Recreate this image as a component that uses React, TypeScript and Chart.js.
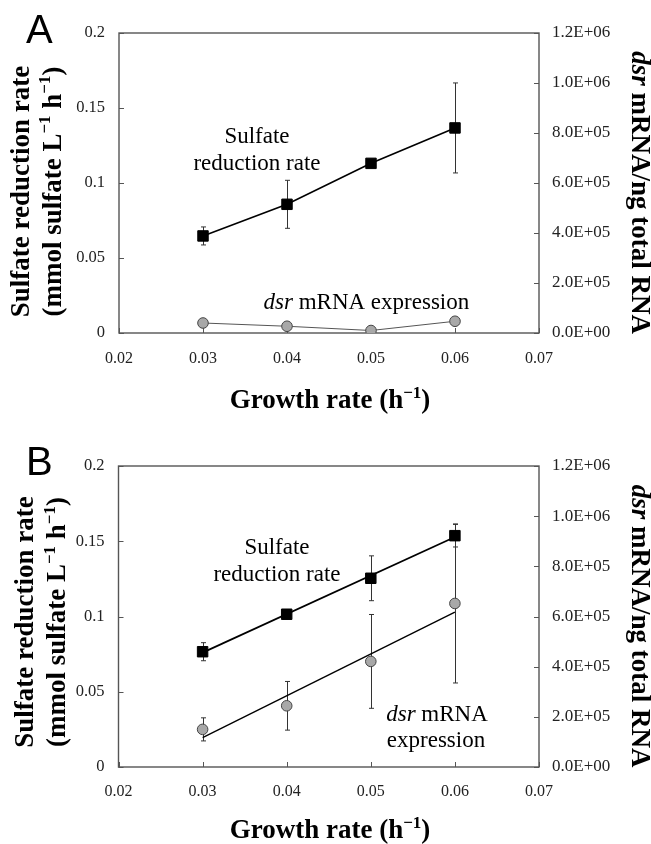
import React, { useEffect, useRef } from 'react';
import { Chart, registerables } from 'chart.js';

Chart.register(...registerables);

// ---------- data ----------
const growthRates = [0.03, 0.04, 0.05, 0.06];
const trendX = [0.03, 0.06];
const xTickValues = [0.02, 0.03, 0.04, 0.05, 0.06, 0.07];
const leftTickValues = [0, 0.05, 0.1, 0.15, 0.2];
const rightTickValues = [0, 200000, 400000, 600000, 800000, 1000000, 1200000];

// Panel A
const sulfateA = [0.0647, 0.0858, 0.1131, 0.1367];
const sulfateErrA = [0.006, 0.016, 0, 0.03];
const dsrA = [40000, 27000, 10000, 47000];

// Panel B
const sulfateB = [0.0766, 0.1015, 0.1254, 0.1537];
const sulfateErrB = [0.006, 0, 0.0149, 0.0075];
const dsrB = [150000, 244000, 421000, 652000];
const dsrErrB = [46000, 97000, 187000, 317000];
const sulfateTrendB = [0.076, 0.1528];
const dsrTrendB = [117000, 617000];

// ---------- style ----------
const SERIF = '"Liberation Serif", "Times New Roman", serif';
const SANS = '"Liberation Sans", Arial, sans-serif';
const W = 651;
const H = 422;

type Seg = { t: string; italic?: boolean; sup?: boolean };

function drawRich(
  ctx: CanvasRenderingContext2D,
  segs: Seg[],
  x: number,
  y: number,
  rot: number,
  size: number,
  bold: boolean,
  align: 'center' | 'left' = 'center'
) {
  ctx.save();
  ctx.translate(x, y);
  ctx.rotate(rot);
  ctx.textBaseline = 'alphabetic';
  ctx.textAlign = 'left';
  ctx.fillStyle = '#000';
  const fontFor = (s: Seg) =>
    `${s.italic ? 'italic ' : ''}${bold ? 'bold ' : ''}${s.sup ? Math.round(size * 0.62) : size}px ${SERIF}`;
  let total = 0;
  const widths = segs.map((s) => {
    ctx.font = fontFor(s);
    const w = ctx.measureText(s.t).width;
    total += w;
    return w;
  });
  let cx = align === 'center' ? -total / 2 : 0;
  segs.forEach((s, i) => {
    ctx.font = fontFor(s);
    ctx.fillText(s.t, cx, s.sup ? -size * 0.38 : 0);
    cx += widths[i];
  });
  ctx.restore();
}

const fmtE = (v: number) => {
  const [m, e] = Number(v).toExponential(1).split('e');
  const n = parseInt(e, 10);
  return `${m}E${n < 0 ? '-' : '+'}${String(Math.abs(n)).padStart(2, '0')}`;
};

type ErrSpec = { vals: number[]; errs: number[]; axis: string };
type TextSpec = { segs: Seg[]; x: number; y: number; rot: number; size: number; bold: boolean; align?: 'center' | 'left' };

type PanelSpec = {
  top: number;
  bottomH: number;
  leftW: number;
  rightW: number;
  xPad: number;
  datasets: any[];
  errors: ErrSpec[];
  texts: TextSpec[];
  letter: { t: string; x: number; y: number; size: number };
};

function makeDecor(p: PanelSpec) {
  return {
    id: 'decor',
    beforeDatasetsDraw(chart: any) {
      const { ctx, chartArea: a, scales } = chart;
      ctx.save();
      // frame
      ctx.strokeStyle = '#555';
      ctx.lineWidth = 1.4;
      ctx.strokeRect(a.left, a.top, a.right - a.left, a.bottom - a.top);
      // inward tick marks
      ctx.beginPath();
      ctx.lineWidth = 1;
      scales.x.ticks.forEach((t: any) => {
        const px = Math.round(scales.x.getPixelForValue(t.value)) + 0.5;
        ctx.moveTo(px, a.bottom);
        ctx.lineTo(px, a.bottom - 5);
      });
      scales.y.ticks.forEach((t: any) => {
        const py = Math.round(scales.y.getPixelForValue(t.value)) + 0.5;
        ctx.moveTo(a.left, py);
        ctx.lineTo(a.left + 5, py);
      });
      scales.y1.ticks.forEach((t: any) => {
        const py = Math.round(scales.y1.getPixelForValue(t.value)) + 0.5;
        ctx.moveTo(a.right, py);
        ctx.lineTo(a.right - 5, py);
      });
      ctx.stroke();
      // error bars
      ctx.strokeStyle = '#333';
      ctx.lineWidth = 1;
      p.errors.forEach((es) => {
        const ys = scales[es.axis];
        es.vals.forEach((v, i) => {
          const e = es.errs[i];
          if (!e) return;
          const px = Math.round(scales.x.getPixelForValue(growthRates[i])) + 0.5;
          const t = ys.getPixelForValue(v + e);
          const b = ys.getPixelForValue(v - e);
          ctx.beginPath();
          ctx.moveTo(px, t);
          ctx.lineTo(px, b);
          ctx.moveTo(px - 2.5, t);
          ctx.lineTo(px + 2.5, t);
          ctx.moveTo(px - 2.5, b);
          ctx.lineTo(px + 2.5, b);
          ctx.stroke();
        });
      });
      ctx.restore();
    },
    afterDraw(chart: any) {
      const ctx = chart.ctx as CanvasRenderingContext2D;
      p.texts.forEach((t) => drawRich(ctx, t.segs, t.x, t.y, t.rot, t.size, t.bold, t.align || 'center'));
      ctx.save();
      ctx.font = `${p.letter.size}px ${SANS}`;
      ctx.fillStyle = '#000';
      ctx.textBaseline = 'alphabetic';
      ctx.textAlign = 'left';
      ctx.fillText(p.letter.t, p.letter.x, p.letter.y);
      ctx.restore();
    },
  };
}

function makeConfig(p: PanelSpec): any {
  const tickFont = { family: SERIF, size: 16 };
  return {
    type: 'line',
    data: { datasets: p.datasets },
    options: {
      responsive: false,
      animation: false,
      devicePixelRatio: 1,
      events: [],
      layout: { padding: { left: 0, right: 0, top: p.top, bottom: 0 } },
      plugins: { legend: { display: false }, tooltip: { enabled: false } },
      scales: {
        x: {
          type: 'linear',
          min: 0.02,
          max: 0.07,
          afterBuildTicks: (s: any) => {
            s.ticks = xTickValues.map((v) => ({ value: v }));
          },
          afterFit: (s: any) => {
            s.height = p.bottomH;
          },
          grid: { display: false, drawTicks: false },
          border: { display: false },
          ticks: {
            padding: p.xPad,
            font: tickFont,
            color: '#222',
            maxRotation: 0,
            autoSkip: false,
            callback: (v: any) => Number(v).toFixed(2),
          },
        },
        y: {
          type: 'linear',
          position: 'left',
          min: 0,
          max: 0.2,
          afterBuildTicks: (s: any) => {
            s.ticks = leftTickValues.map((v) => ({ value: v }));
          },
          afterFit: (s: any) => {
            s.width = p.leftW;
          },
          grid: { display: false, drawTicks: false },
          border: { display: false },
          ticks: {
            padding: 14,
            font: { family: SERIF, size: 16.5 },
            color: '#222',
            callback: (v: any) => String(Number(Number(v).toFixed(2))),
          },
        },
        y1: {
          type: 'linear',
          position: 'right',
          min: 0,
          max: 1200000,
          afterBuildTicks: (s: any) => {
            s.ticks = rightTickValues.map((v) => ({ value: v }));
          },
          afterFit: (s: any) => {
            s.width = p.rightW;
          },
          grid: { display: false, drawTicks: false },
          border: { display: false },
          ticks: {
            padding: 13,
            font: { family: SERIF, size: 17 },
            color: '#222',
            callback: (v: any) => fmtE(Number(v)),
          },
        },
      },
    },
    plugins: [makeDecor(p)],
  };
}

const pts = (xs: number[], ys: number[]) => xs.map((x, i) => ({ x, y: ys[i] }));

const squareStyle = {
  pointStyle: 'rect',
  pointRadius: 7.4,
  pointBackgroundColor: '#000',
  pointBorderColor: '#000',
  pointBorderWidth: 1,
};
const circleStyle = {
  pointStyle: 'circle',
  pointRadius: 5.3,
  pointBackgroundColor: '#a8a8a8',
  pointBorderColor: '#444',
  pointBorderWidth: 1,
};

const leftTitle1: Seg[] = [{ t: 'Sulfate reduction rate' }];
const leftTitle2: Seg[] = [
  { t: '(mmol sulfate L' },
  { t: '\u22121', sup: true },
  { t: ' h' },
  { t: '\u22121', sup: true },
  { t: ')' },
];
const rightTitle: Seg[] = [{ t: 'dsr', italic: true }, { t: ' mRNA/ng total RNA' }];
const xTitle: Seg[] = [{ t: 'Growth rate (h' }, { t: '\u22121', sup: true }, { t: ')' }];

const panelA: PanelSpec = {
  top: 33,
  bottomH: H - 333,
  leftW: 119,
  rightW: W - 539,
  xPad: 16,
  datasets: [
    {
      label: 'Sulfate reduction rate',
      data: pts(growthRates, sulfateA),
      yAxisID: 'y',
      borderColor: '#000',
      borderWidth: 1.6,
      tension: 0,
      ...squareStyle,
    },
    {
      label: 'dsr mRNA expression',
      data: pts(growthRates, dsrA),
      yAxisID: 'y1',
      borderColor: '#555',
      borderWidth: 1,
      tension: 0,
      ...circleStyle,
    },
  ],
  errors: [{ vals: sulfateA, errs: sulfateErrA, axis: 'y' }],
  texts: [
    { segs: leftTitle1, x: 28.5, y: 191.5, rot: -Math.PI / 2, size: 27, bold: true },
    { segs: leftTitle2, x: 60.5, y: 191.5, rot: -Math.PI / 2, size: 27, bold: true },
    { segs: rightTitle, x: 631.5, y: 192.5, rot: Math.PI / 2, size: 27, bold: true },
    { segs: xTitle, x: 330, y: 408, rot: 0, size: 27, bold: true },
    { segs: [{ t: 'Sulfate' }], x: 257, y: 142.5, rot: 0, size: 23, bold: false },
    { segs: [{ t: 'reduction rate' }], x: 257, y: 170, rot: 0, size: 23, bold: false },
    {
      segs: [{ t: 'dsr', italic: true }, { t: ' mRNA expression' }],
      x: 263.5,
      y: 309,
      rot: 0,
      size: 23,
      bold: false,
      align: 'left',
    },
  ],
  letter: { t: 'A', x: 26, y: 43, size: 40 },
};

const OB = 422; // page offset of panel B canvas
const panelB: PanelSpec = {
  top: 466 - OB,
  bottomH: H - (767 - OB),
  leftW: 118.5,
  rightW: W - 539,
  xPad: 15,
  datasets: [
    {
      label: 'Sulfate reduction rate',
      data: pts(growthRates, sulfateB),
      yAxisID: 'y',
      showLine: false,
      ...squareStyle,
    },
    {
      label: 'dsr mRNA expression',
      data: pts(growthRates, dsrB),
      yAxisID: 'y1',
      showLine: false,
      ...circleStyle,
    },
    {
      label: 'Sulfate trend',
      data: pts(trendX, sulfateTrendB),
      yAxisID: 'y',
      borderColor: '#000',
      borderWidth: 1.7,
      pointRadius: 0,
    },
    {
      label: 'dsr trend',
      data: pts(trendX, dsrTrendB),
      yAxisID: 'y1',
      borderColor: '#000',
      borderWidth: 1.4,
      pointRadius: 0,
    },
  ],
  errors: [
    { vals: sulfateB, errs: sulfateErrB, axis: 'y' },
    { vals: dsrB, errs: dsrErrB, axis: 'y1' },
  ],
  texts: [
    { segs: leftTitle1, x: 32.5, y: 622 - OB, rot: -Math.PI / 2, size: 27, bold: true },
    { segs: leftTitle2, x: 65, y: 622 - OB, rot: -Math.PI / 2, size: 27, bold: true },
    { segs: rightTitle, x: 631.5, y: 626 - OB, rot: Math.PI / 2, size: 27, bold: true },
    { segs: xTitle, x: 330, y: 838 - OB, rot: 0, size: 27, bold: true },
    { segs: [{ t: 'Sulfate' }], x: 277, y: 553.5 - OB, rot: 0, size: 23, bold: false },
    { segs: [{ t: 'reduction rate' }], x: 277, y: 581 - OB, rot: 0, size: 23, bold: false },
    { segs: [{ t: 'dsr', italic: true }, { t: ' mRNA' }], x: 437, y: 720.5 - OB, rot: 0, size: 23, bold: false },
    { segs: [{ t: 'expression' }], x: 436, y: 747 - OB, rot: 0, size: 23, bold: false },
  ],
  letter: { t: 'B', x: 26, y: 475 - OB, size: 40 },
};

function Panel({ spec, top }: { spec: PanelSpec; top: number }) {
  const ref = useRef<HTMLCanvasElement | null>(null);
  useEffect(() => {
    if (!ref.current) return;
    const chart = new Chart(ref.current, makeConfig(spec));
    return () => chart.destroy();
  }, [spec]);
  return (
    <canvas
      ref={ref}
      width={W}
      height={H}
      style={{ position: 'absolute', left: 0, top, width: W, height: H, display: 'block' }}
    />
  );
}

export default function App() {
  return (
    <div style={{ position: 'absolute', left: 0, top: 0, width: W, height: 844, background: '#fff', overflow: 'hidden' }}>
      <Panel spec={panelA} top={0} />
      <Panel spec={panelB} top={OB} />
    </div>
  );
}
